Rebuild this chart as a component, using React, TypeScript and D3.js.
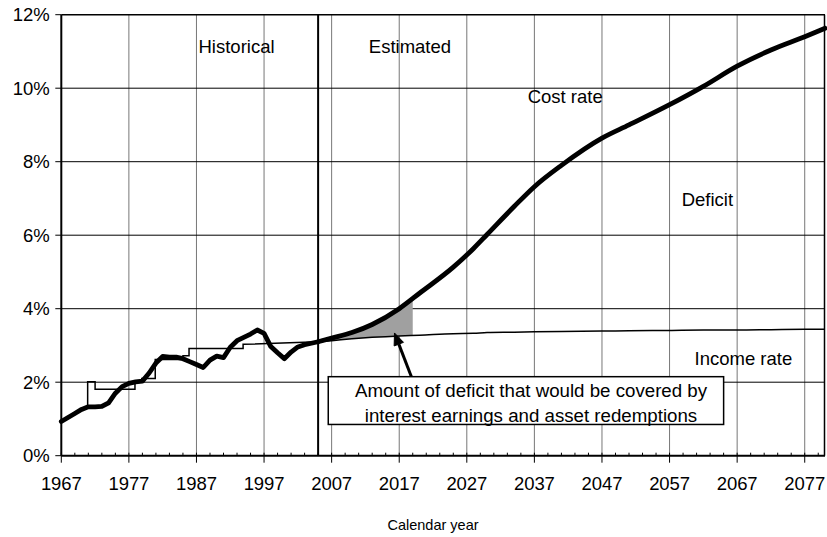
import React from 'react';
import * as d3 from 'd3';

// cost rate, historical (annual)
const histYears = [
  1967, 1968, 1969, 1970, 1971, 1972, 1973, 1974, 1975, 1976, 1977, 1978, 1979, 1980, 1981, 1982, 1983, 1984, 1985,
  1986, 1987, 1988, 1989, 1990, 1991, 1992, 1993, 1994, 1995, 1996, 1997, 1998, 1999, 2000, 2001, 2002, 2003, 2004,
  2005,
];
const histCost = [
  0.93, 1.04, 1.15, 1.26, 1.33, 1.33, 1.34, 1.44, 1.7, 1.88, 1.97, 2.01, 2.03, 2.25, 2.52, 2.7, 2.68, 2.68, 2.64, 2.56,
  2.48, 2.4, 2.6, 2.71, 2.67, 2.95, 3.13, 3.22, 3.31, 3.42, 3.33, 2.97, 2.8, 2.64, 2.82, 2.96, 3.02, 3.06, 3.1,
];
// income rate, historical (tax-rate steps, as drawn)
const histIncome: [number, number][] = [
  [1967, 0.93], [1968, 1.04], [1969, 1.15], [1970, 1.27], [1970.9, 1.36], [1970.9, 2.01], [1972, 2.01], [1972, 1.81],
  [1977.9, 1.81], [1977.9, 2.0], [1978.9, 2.0], [1978.9, 2.1], [1980.9, 2.1], [1980.9, 2.62], [1985, 2.62],
  [1985, 2.72], [1985.9, 2.72], [1985.9, 2.92], [1993.9, 2.92], [1993.9, 3.03], [2005, 3.1],
];

// projections
const projYears = [2005, 2007, 2010, 2013, 2017, 2020, 2025, 2028, 2030, 2034, 2037, 2041, 2047, 2051, 2057, 2062, 2067, 2072, 2077, 2080];
const projCost = [3.1, 3.2, 3.35, 3.57, 4.0, 4.42, 5.13, 5.64, 6.02, 6.78, 7.32, 7.9, 8.64, 9.0, 9.55, 10.05, 10.6, 11.04, 11.4, 11.63];
const projIncome = [3.1, 3.13, 3.18, 3.22, 3.26, 3.28, 3.32, 3.33, 3.35, 3.36, 3.37, 3.38, 3.39, 3.4, 3.41, 3.42, 3.42, 3.43, 3.44, 3.44];

const xTicks = [1967, 1977, 1987, 1997, 2007, 2017, 2027, 2037, 2047, 2057, 2067, 2077];
const yTicks = [0, 2, 4, 6, 8, 10, 12];

const boundaryYear = 2005;
const shadeEndYear = 2019;

const labels = [
  { text: 'Historical', year: 1987.3, value: 10.95 },
  { text: 'Estimated', year: 2012.5, value: 10.95 },
  { text: 'Cost rate', year: 2036.0, value: 9.6 },
  { text: 'Deficit', year: 2058.8, value: 6.8 },
  { text: 'Income rate', year: 2060.7, value: 2.48 },
];

const noteLines = ['Amount of deficit that would be covered by', 'interest earnings and asset redemptions'];
const note = { x0: 2006.5, x1: 2065, y0: 2.15, y1: 0.85, tipYear: 2016.3, tipValue: 3.34, tailYear: 2018.8 };

const W = 827;
const H = 537;
const font = '"Liberation Sans", Arial, sans-serif';

export default function App() {
  const x = d3.scaleLinear().domain([1967, 2080]).range([61.3, 825]);
  const y = d3.scaleLinear().domain([0, 12]).range([455.7, 14.7]);

  const histLine = d3.line<number>().x((_, i) => x(histYears[i])).y((d) => y(d))(histCost) || '';
  const incHistLine = d3.line<[number, number]>().x((d) => x(d[0])).y((d) => y(d[1]))(histIncome) || '';
  const projCostLine =
    d3.line<number>().x((_, i) => x(projYears[i])).y((d) => y(d)).curve(d3.curveMonotoneX)(projCost) || '';
  const projIncLine =
    d3.line<number>().x((_, i) => x(projYears[i])).y((d) => y(d)).curve(d3.curveMonotoneX)(projIncome) || '';
  const shade =
    d3
      .area<number>()
      .x((_, i) => x(projYears[i]))
      .y0((_, i) => y(projIncome[i]))
      .y1((d) => y(d))
      .curve(d3.curveMonotoneX)(projCost) || '';

  const minor = d3.range(1967, 2080, 2);

  // arrow
  const tip = [x(note.tipYear), y(note.tipValue)];
  const tail = [x(note.tailYear), y(note.y0)];
  const dx = tip[0] - tail[0];
  const dy = tip[1] - tail[1];
  const len = Math.hypot(dx, dy);
  const ux = dx / len;
  const uy = dy / len;
  const base = [tip[0] - 12 * ux, tip[1] - 12 * uy];
  const head = `${tip[0]},${tip[1]} ${base[0] + 5 * uy},${base[1] - 5 * ux} ${base[0] - 5 * uy},${base[1] + 5 * ux}`;

  const [left, right] = x.range();
  const [bottom, top] = y.range();

  return (
    <svg width={W} height={H} style={{ position: 'absolute', left: 0, top: 0, background: '#fff' }} fontFamily={font}>
      <defs>
        <clipPath id="shadeClip">
          <rect x={x(boundaryYear)} y={top} width={x(shadeEndYear) - x(boundaryYear)} height={bottom - top} />
        </clipPath>
      </defs>

      {/* grid */}
      {xTicks.slice(1).map((t) => (
        <line key={'vx' + t} x1={x(t)} x2={x(t)} y1={top} y2={bottom} stroke="#777" strokeWidth={1} />
      ))}
      {yTicks.slice(1, -1).map((t) => (
        <line key={'hy' + t} x1={left} x2={right} y1={y(t)} y2={y(t)} stroke="#000" strokeWidth={1} />
      ))}

      {/* deficit shading */}
      <path d={shade} fill="#a0a0a0" clipPath="url(#shadeClip)" />

      {/* income rate */}
      <path d={incHistLine} fill="none" stroke="#000" strokeWidth={1.5} />
      <path d={projIncLine} fill="none" stroke="#000" strokeWidth={1.5} />

      {/* cost rate */}
      <path d={histLine} fill="none" stroke="#000" strokeWidth={4.8} strokeLinejoin="round" strokeLinecap="round" />
      <path d={projCostLine} fill="none" stroke="#000" strokeWidth={4.8} strokeLinejoin="round" strokeLinecap="round" />

      {/* historical / estimated boundary */}
      <line x1={x(boundaryYear)} x2={x(boundaryYear)} y1={top} y2={bottom} stroke="#000" strokeWidth={2} />

      {/* frame */}
      <line x1={left} x2={right} y1={top} y2={top} stroke="#000" strokeWidth={1.5} />
      <line x1={right - 0.5} x2={right - 0.5} y1={top} y2={bottom} stroke="#000" strokeWidth={1.5} />
      <line x1={left} x2={left} y1={top} y2={bottom} stroke="#000" strokeWidth={2} />
      <line x1={left} x2={right} y1={bottom} y2={bottom} stroke="#000" strokeWidth={2} />

      {/* x axis ticks */}
      {minor.map((t) => (
        <line key={'mn' + t} x1={x(t)} x2={x(t)} y1={bottom - 3} y2={bottom} stroke="#000" strokeWidth={1} />
      ))}
      {xTicks.map((t) => (
        <g key={'xt' + t}>
          <line x1={x(t)} x2={x(t)} y1={bottom} y2={bottom + 7} stroke="#000" strokeWidth={1} />
          <text x={x(t)} y={bottom + 34} textAnchor="middle" fontSize={18.5} letterSpacing={-0.1}>
            {t}
          </text>
        </g>
      ))}

      {/* y axis ticks */}
      {yTicks.map((t) => (
        <g key={'yt' + t}>
          <line x1={left - 6} x2={left} y1={y(t)} y2={y(t)} stroke="#000" strokeWidth={1} />
          <text x={49.5} y={y(t) + 6.4} textAnchor="end" fontSize={18.5} letterSpacing={-0.1}>
            {t}%
          </text>
        </g>
      ))}

      {/* in-chart labels */}
      {labels.map((l) => (
        <text key={l.text} x={x(l.year)} y={y(l.value)} fontSize={18.5}>
          {l.text}
        </text>
      ))}

      {/* annotation */}
      <line x1={tail[0]} y1={tail[1]} x2={base[0]} y2={base[1]} stroke="#000" strokeWidth={3} />
      <polygon points={head} fill="#000" stroke="#000" strokeWidth={1} />
      <rect
        x={x(note.x0)}
        y={y(note.y0)}
        width={x(note.x1) - x(note.x0)}
        height={y(note.y1) - y(note.y0)}
        fill="#fff"
        stroke="#000"
        strokeWidth={1.5}
      />
      {noteLines.map((s, i) => (
        <text key={s} x={531} y={y(note.y0) + 20.5 + i * 24.5} textAnchor="middle" fontSize={18.7}>
          {s}
        </text>
      ))}

      <text x={433} y={530} textAnchor="middle" fontSize={14.5}>
        Calendar year
      </text>
    </svg>
  );
}
